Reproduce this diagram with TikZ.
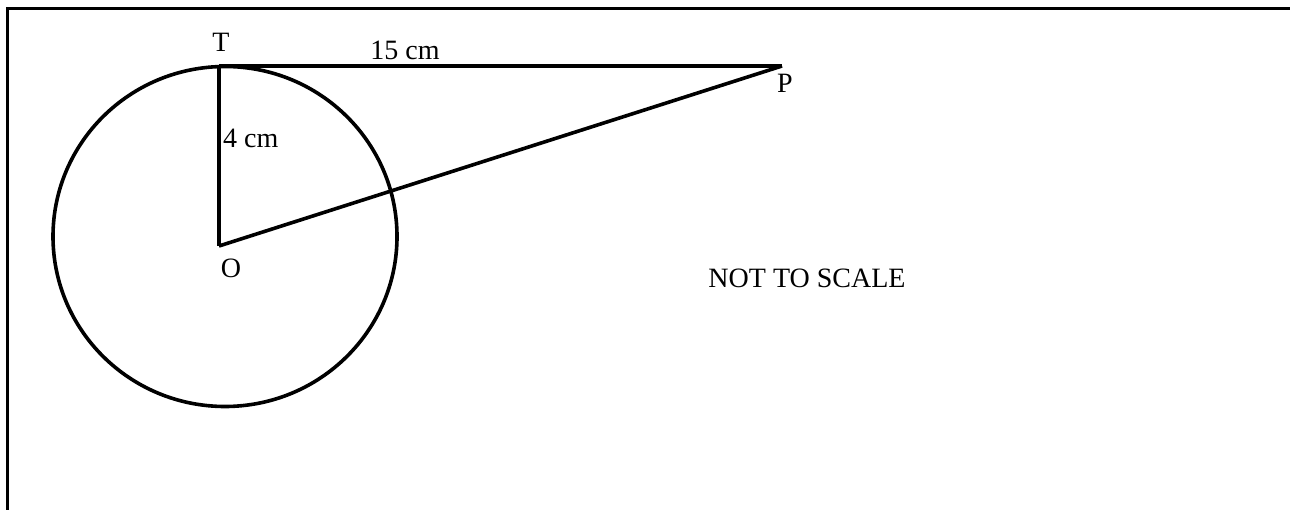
\documentclass[tikz,border=0pt]{standalone}
\usepackage{fontspec}
\setmainfont{Liberation Serif}
\begin{document}
\begin{tikzpicture}[x=1pt,y=-1pt,
  seg/.style={line width=3.6pt},
  lbl/.style={inner sep=0pt,anchor=base,font=\fontsize{28}{30}\selectfont}]
\useasboundingbox (0,0) rectangle (1290,510);
% frame
\coordinate (fbl) at (7,512);
\coordinate (ftl) at (7,9);
\coordinate (ftr) at (1292,9);
\draw[line width=3pt] (fbl) -- (ftl) -- (ftr);
% points
\coordinate (T) at (219,66);
\coordinate (O) at (219,246);
\coordinate (P) at (782,66);
\coordinate (C) at (225,236.5);
\draw[seg] (C) ellipse [x radius=172, y radius=170];
\draw[seg] (T) -- (P);
\draw[seg] (T) -- (O);
\draw[seg] (O) -- (P);
% labels
\node[lbl] (lT) at (221,52) {T};
\node[lbl] (l15) at (405,60) {15 cm};
\node[lbl,anchor=base west] (l4) at (223,148) {4 cm};
\node[lbl] (lO) at (231,278) {O};
\node[lbl] (lP) at (785,93) {P};
\node[lbl] (lN) at (807,288) {NOT TO SCALE};
\end{tikzpicture}
\end{document}
